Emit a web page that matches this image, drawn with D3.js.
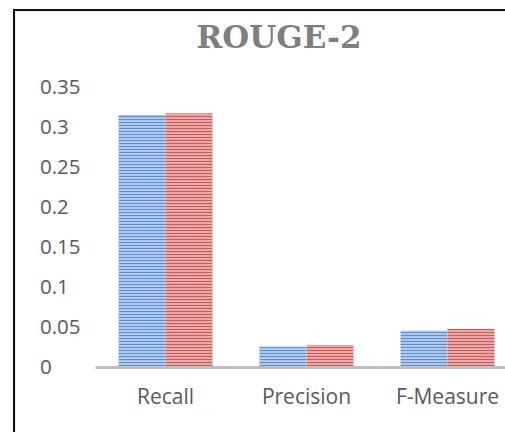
<!DOCTYPE html>
<html>
<head>
<meta charset="utf-8">
<script src="https://cdn.jsdelivr.net/npm/d3@7"></script>
<style>
  body { margin: 0; background: #fff; }
  .tick-label, .cat-label { font-family: "Open Sans", sans-serif; fill: #595959; }
</style>
</head>
<body>
<div id="chart"></div>
<script>
// data
const categories = ["Recall", "Precision", "F-Measure"];
const seriesA = [0.315, 0.0255, 0.0455];  // blue
const seriesB = [0.317, 0.0275, 0.0475];  // red
const yTicks = [0, 0.05, 0.1, 0.15, 0.2, 0.25, 0.3, 0.35];
const tickLabels = ["0", "0.05", "0.1", "0.15", "0.2", "0.25", "0.3", "0.35"];

const W = 505, H = 432;
const svg = d3.select("#chart").append("svg")
    .attr("width", W)
    .attr("height", H);

// hatched fills
const defs = svg.append("defs");
function stripes(id, bg, line) {
    const p = defs.append("pattern")
        .attr("id", id)
        .attr("patternUnits", "userSpaceOnUse")
        .attr("width", 6)
        .attr("height", 3);
    p.append("rect").attr("width", 6).attr("height", 3).attr("fill", bg);
    p.append("rect").attr("y", 2).attr("width", 6).attr("height", 1).attr("fill", line);
}
stripes("hatchBlue", "#adc8ea", "#6092d2");
stripes("hatchRed", "#e6a8a8", "#cc5a59");

// frame (left + top edges, right/bottom cropped in the source)
svg.append("path")
    .attr("d", `M15,${H} L15,11 L${W},11`)
    .attr("fill", "none")
    .attr("stroke", "#d9d9d9")
    .attr("stroke-width", 1);
svg.append("path")
    .attr("d", `M14,${H} L14,10 L${W},10`)
    .attr("fill", "none")
    .attr("stroke", "#111")
    .attr("stroke-width", 2);

svg.append("text")
    .attr("x", 279)
    .attr("y", 48)
    .attr("text-anchor", "middle")
    .attr("font-family", "'DejaVu Serif', serif")
    .attr("font-weight", "bold")
    .attr("font-size", 31)
    .attr("fill", "#7f7f7f")
    .text("ROUGE-2");

const x0 = d3.scaleBand()
    .domain(categories)
    .range([95, 518])
    .paddingInner(1 / 3)
    .paddingOuter(1 / 6);
const x1 = d3.scaleBand()
    .domain(["a", "b"])
    .range([0, x0.bandwidth()]);
const y = d3.scaleLinear()
    .domain([0, 0.35])
    .range([367, 87]);

// y tick labels (no axis line in the source)
const yAxis = svg.append("g")
    .attr("transform", "translate(40,0)")
    .call(d3.axisLeft(y).tickValues(yTicks).tickSize(0).tickFormat((d, i) => tickLabels[i]));
yAxis.select(".domain").remove();
yAxis.selectAll("text")
    .attr("class", "tick-label")
    .attr("x", 0)
    .attr("text-anchor", "start")
    .attr("font-size", 20.5)
    .attr("fill", "#595959");

const rows = categories.map((c, i) => ({ cat: c, values: [
    { key: "a", value: seriesA[i] },
    { key: "b", value: seriesB[i] }
]}));

svg.append("g")
    .selectAll("g")
    .data(rows)
    .join("g")
        .attr("transform", d => `translate(${x0(d.cat)},0)`)
    .selectAll("rect")
    .data(d => d.values)
    .join("rect")
        .attr("x", d => x1(d.key))
        .attr("y", d => y(d.value))
        .attr("width", x1.bandwidth())
        .attr("height", d => y(0) - y(d.value))
        .attr("fill", d => d.key === "a" ? "url(#hatchBlue)" : "url(#hatchRed)");

// category axis
const xAxis = svg.append("g")
    .attr("transform", `translate(0,${y(0)})`)
    .call(d3.axisBottom(x0).tickSize(0).tickPadding(0));
xAxis.select(".domain")
    .attr("stroke", "#bfbfbf")
    .attr("stroke-width", 3);
xAxis.selectAll("text")
    .attr("class", "cat-label")
    .attr("dy", 0)
    .attr("y", 37)
    .attr("font-size", 21)
    .attr("fill", "#595959");
</script>
</body>
</html>
